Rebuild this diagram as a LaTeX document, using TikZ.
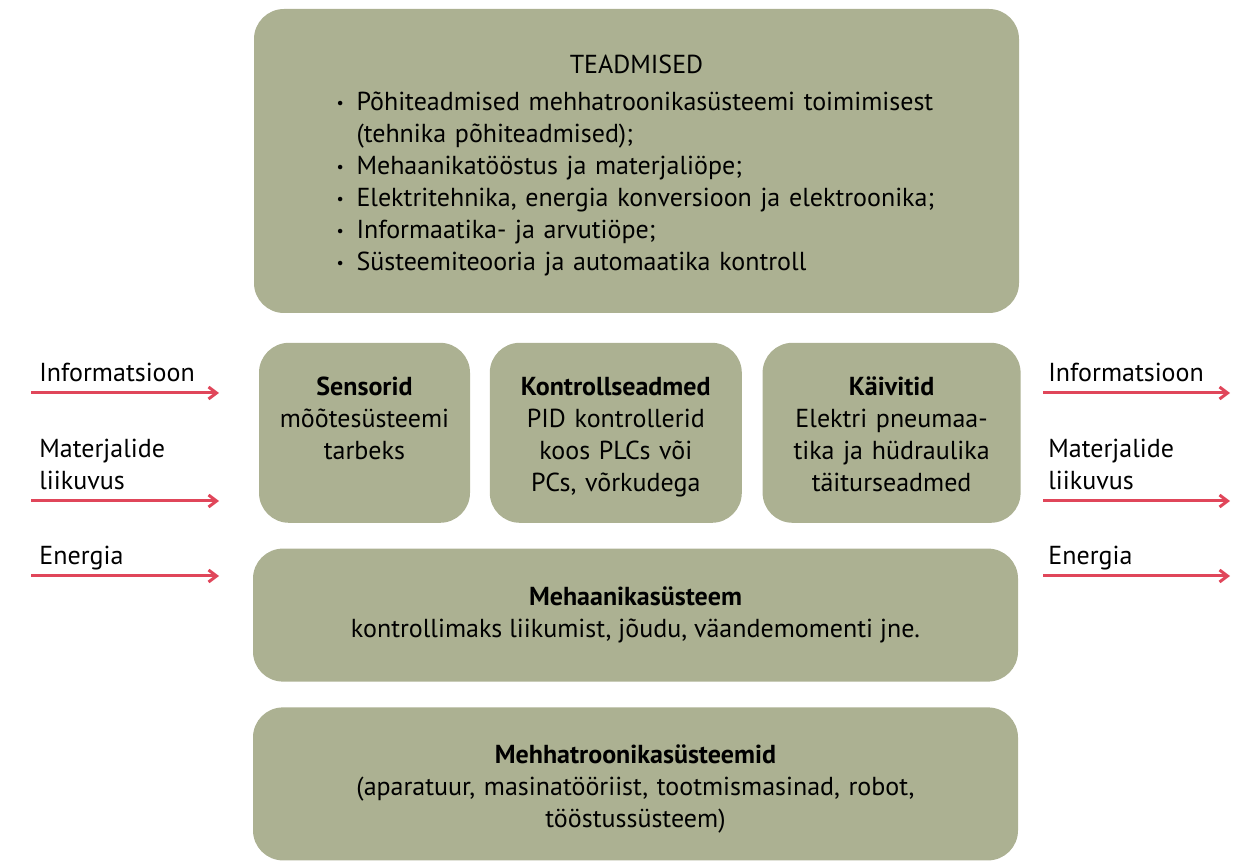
\documentclass[tikz,border=0pt]{standalone}
\usepackage{fontspec}
\setmainfont{PT Sans}
\usetikzlibrary{arrows.meta,positioning}

\definecolor{olivebox}{RGB}{172,177,146}
\definecolor{flowred}{RGB}{224,70,90}
\newcommand{\bul}{\makebox[10pt][l]{\raisebox{1pt}{\footnotesize\textbullet}}}

\begin{document}
\begin{tikzpicture}[
  x=0.5pt, y=-0.5pt,
  font=\fontsize{13}{16}\selectfont,
  box/.style={
    fill=olivebox,
    rounded corners=15pt,
    align=center,
    inner sep=4pt
  },
  widebox/.style={box, minimum width=382.5pt},
  midbox/.style={box, minimum height=90pt, text height=15pt, text depth=52pt},
  flow/.style={-{Straight Barb[length=4pt,width=6pt]}, line width=1.5pt, draw=flowred},
  flowtext/.style={inner sep=0pt, align=left}
]
\useasboundingbox (0,0) rectangle (1244,861);

\node[widebox, minimum height=152pt, text width=300pt, text height=14pt, align=left] (teadmised) at (636.5,161) {%
  \makebox[\linewidth]{TEADMISED}\\[2.5pt]
  \bul P\~ohiteadmised mehhatroonikas\"usteemi toimimisest\\
  \hspace*{10pt}(tehnika p\~ohiteadmised);\\
  \bul Mehaanikat\"o\"ostus ja materjali\"ope;\\
  \bul Elektritehnika, energia konversioon ja elektroonika;\\
  \bul Informaatika- ja arvuti\"ope;\\
  \bul S\"usteemiteooria ja automaatika kontroll};

\node[midbox, minimum width=105.5pt, text width=97pt, below right=14.5pt and 2.5pt of teadmised.south west] (sensorid)
  {\textbf{Sensorid}\\m\~o\~otes\"usteemi\\tarbeks};
\node[midbox, minimum width=126pt, text width=118pt, right=9.5pt of sensorid] (kontroll)
  {\textbf{Kontrollseadmed}\\PID kontrollerid\\koos PLCs v\~oi\\PCs, v\~orkudega};
\node[midbox, minimum width=129pt, text width=121pt, right=10pt of kontroll] (kaivitid)
  {\textbf{K\"aivitid}\\Elektri pneumaa-\\tika ja h\"udraulika\\t\"aiturseadmed};

\node[widebox, minimum height=66.5pt, below right=12.5pt and -3pt of sensorid.south west] (mehaanika)
  {\textbf{Mehaanikas\"usteem}\\kontrollimaks liikumist, j\~oudu, v\"aandemomenti jne.};
\node[widebox, minimum height=76.5pt, text width=360pt, text height=14pt, below=12.5pt of mehaanika] (mehhatroonika)
  {\textbf{Mehhatroonikas\"usteemid}\\(aparatuur, masinat\"o\"oriist, tootmismasinad, robot,\\t\"o\"ostuss\"usteem)};

% sisendid vasakul
\coordinate (infoL) at (31,393);
\coordinate (infoLtip) at (219,393);
\coordinate (matL) at (31,501);
\coordinate (matLtip) at (219,501);
\coordinate (enL) at (31,576);
\coordinate (enLtip) at (219,576);

% valjundid paremal
\coordinate (infoR) at (1043,393);
\coordinate (infoRtip) at (1230,393);
\coordinate (matR) at (1043,501);
\coordinate (matRtip) at (1230,501);
\coordinate (enR) at (1043,576);
\coordinate (enRtip) at (1230,576);

\draw[flow] (infoL) -- (infoLtip);
\draw[flow] (matL) -- (matLtip);
\draw[flow] (enL) -- (enLtip);
\draw[flow] (infoR) -- (infoRtip);
\draw[flow] (matR) -- (matRtip);
\draw[flow] (enR) -- (enRtip);

\node[flowtext, above right=5.5pt and 4pt of infoL] (infoLtxt) {Informatsioon};
\node[flowtext, above right=5.5pt and 4pt of matL] (matLtxt) {Materjalide\\liikuvus};
\node[flowtext, above right=3pt and 4pt of enL] (enLtxt) {Energia};
\node[flowtext, above right=5.5pt and 2.5pt of infoR] (infoRtxt) {Informatsioon};
\node[flowtext, above right=5.5pt and 2.5pt of matR] (matRtxt) {Materjalide\\liikuvus};
\node[flowtext, above right=3pt and 2.5pt of enR] (enRtxt) {Energia};

\end{tikzpicture}
\end{document}
